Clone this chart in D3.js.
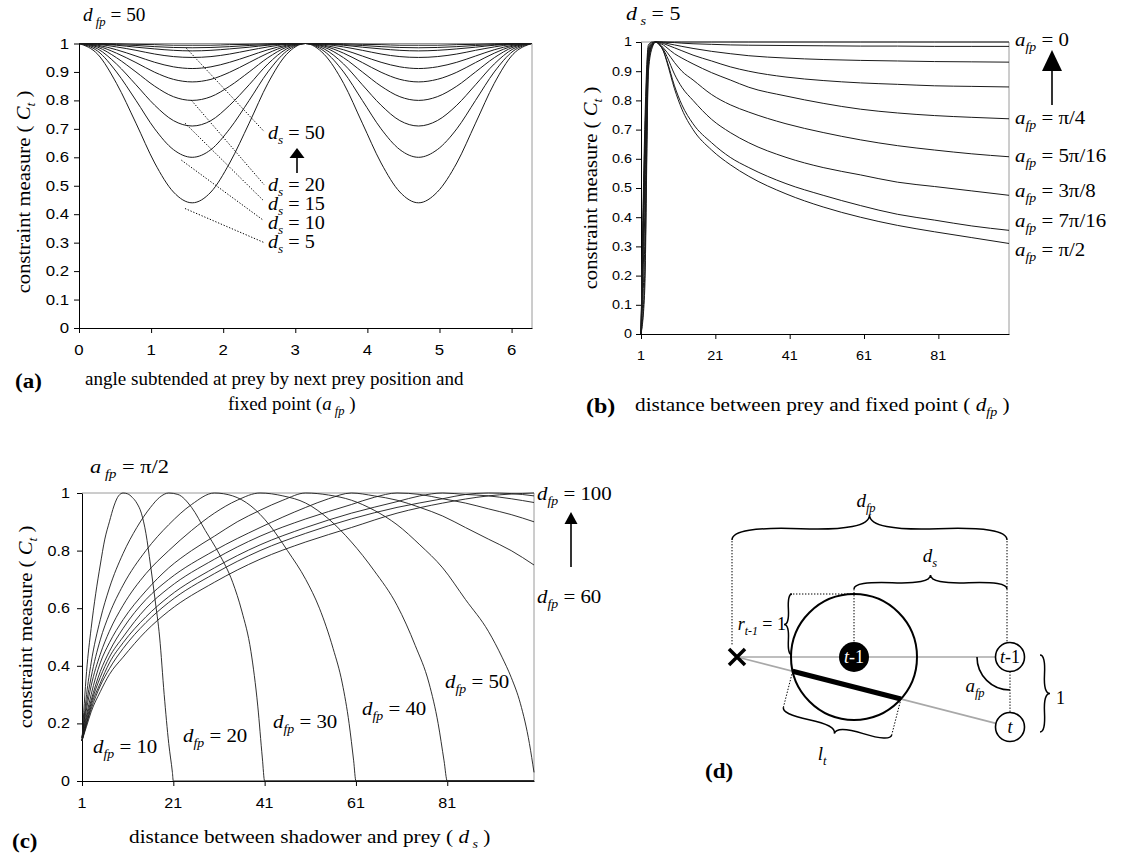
<!DOCTYPE html>
<html><head><meta charset="utf-8">
<script src="https://cdn.jsdelivr.net/npm/d3@7"></script>
<style>body{margin:0;background:#fff}</style>
</head><body><svg id="fig" width="1121" height="854"></svg>
<script>
// ================= DATA =================
// Panel (a): constraint measure vs a_fp (d_fp = 50), one series per d_s
const angleValues = [0,0.26,0.52,0.79,1.05,1.31,1.57,1.83,2.09,2.36,2.62,2.88,3.14,3.40,3.67,3.93,4.19,4.45,4.71,4.97,5.24,5.50,5.76,6.02,6.28];
const aDs5  = [1,.962,.86,.72,.58,.478,.44,.478,.58,.72,.86,.962,1,.962,.86,.72,.58,.478,.44,.478,.58,.72,.86,.962,1];
const aDs10 = [1,.973,.90,.80,.70,.627,.60,.627,.70,.80,.90,.973,1,.973,.90,.80,.70,.627,.60,.627,.70,.80,.90,.973,1];
const aDs15 = [1,.981,.928,.855,.783,.729,.71,.729,.783,.855,.928,.981,1,.981,.928,.855,.783,.729,.71,.729,.783,.855,.928,.981,1];
const aDs20 = [1,.987,.95,.90,.85,.813,.80,.813,.85,.90,.95,.987,1,.987,.95,.90,.85,.813,.80,.813,.85,.90,.95,.987,1];
const aDs25 = [1,.991,.966,.933,.899,.874,.865,.874,.899,.933,.966,.991,1,.991,.966,.933,.899,.874,.865,.874,.899,.933,.966,.991,1];
const aDs30 = [1,.994,.978,.956,.934,.918,.912,.918,.934,.956,.978,.994,1,.994,.978,.956,.934,.918,.912,.918,.934,.956,.978,.994,1];
const aDs35 = [1,.997,.988,.976,.963,.954,.951,.954,.963,.976,.988,.997,1,.997,.988,.976,.963,.954,.951,.954,.963,.976,.988,.997,1];
const aDs40 = [1,.998,.994,.987,.981,.976,.974,.976,.981,.987,.994,.998,1,.998,.994,.987,.981,.976,.974,.976,.981,.987,.994,.998,1];
const aDs45 = [1,.999,.996,.993,.989,.986,.985,.986,.989,.993,.996,.999,1,.999,.996,.993,.989,.986,.985,.986,.989,.993,.996,.999,1];
const aDs50 = [1,1,.999,.997,.996,.994,.994,.994,.996,.997,.999,1,1,1,.999,.997,.996,.994,.994,.994,.996,.997,.999,1,1];
const aXTicks = [0,1,2,3,4,5,6];
const aYTicks = [0,0.1,0.2,0.3,0.4,0.5,0.6,0.7,0.8,0.9,1];
// leader lines: [curve point (a_fp, C), label end (a_fp, C)] and label text
const aLeaderStart = [[1.49,0.983],[1.56,0.80],[1.47,0.72],[1.42,0.59],[1.47,0.42]];
const aLeaderEnd   = [[2.57,0.69],[2.57,0.503],[2.55,0.45],[2.55,0.38],[2.57,0.30]];
const aLeaderLabels = ["50","20","15","10","5"];

// Panel (b): constraint measure vs d_fp (d_s = 5), one series per a_fp
const dfpValues = [1,2,3,4,5,6,7,8,10,12,15,20,25,30,40,50,60,70,80,90,100];
const bAfp0     = [0,.7,.99,1,1,1,1,1,1,1,1,1,1,1,1,1,1,1,1,1,1];
const bAfpPi16  = [0,.65,.98,.998,1,1,1,.999,.998,.996,.994,.992,.99,.989,.988,.987,.986,.986,.985,.985,.985];
const bAfpPi8   = [0,.6,.97,.995,1,1,.998,.995,.99,.985,.978,.968,.96,.953,.945,.94,.937,.935,.933,.932,.931];
const bAfp3Pi16 = [0,.55,.96,.995,1,.998,.995,.99,.98,.97,.955,.935,.915,.9,.88,.868,.86,.855,.85,.848,.846];
const bAfpPi4   = [0,.5,.95,.99,1,.995,.99,.98,.96,.945,.925,.895,.87,.845,.815,.79,.77,.757,.748,.742,.737];
const bAfp5Pi16 = [0,.4,.94,.99,1,.993,.98,.965,.93,.90,.87,.82,.785,.76,.72,.69,.665,.645,.63,.617,.607];
const bAfp3Pi8  = [0,.3,.93,.99,1,.99,.975,.95,.89,.845,.80,.735,.69,.655,.605,.57,.545,.52,.505,.49,.475];
const bAfp7Pi16 = [0,.2,.92,.985,1,.99,.97,.935,.85,.785,.72,.655,.605,.57,.515,.475,.44,.41,.39,.37,.355];
const bAfpPi2   = [0,.15,.9,.98,1,.99,.97,.93,.84,.77,.70,.63,.58,.54,.48,.435,.40,.372,.35,.33,.31];
const bXTicks = [1,21,41,61,81];
const bYTicks = [0,0.1,0.2,0.3,0.4,0.5,0.6,0.7,0.8,0.9,1];
const bLabels = ["0","π/4","5π/16","3π/8","7π/16","π/2"];

// Panel (c): constraint measure vs d_s (a_fp = π/2), one series per d_fp, [d_s, C]
const cDfp10  = [[1,.14],[2,.38],[3,.53],[4,.65],[5,.75],[6,.84],[7,.9],[8,.955],[9,.99],[10,1],[11,.997],[12,.985],[13,.965],[14,.93],[15,.86],[16,.75],[17,.63],[18,.5],[19,.3],[20,.13],[20.8,.03],[21,0],[100,0]];
const cDfp20  = [[1,.14],[2,.3],[3,.41],[5,.56],[7,.67],[10,.79],[13,.88],[16,.95],[18,.985],[20,1],[22,.995],[25,.95],[28,.87],[31,.79],[34,.69],[36,.59],[38,.45],[39.5,.26],[40.5,.08],[41,0],[100,0]];
const cDfp30  = [[1,.15],[2,.27],[3,.36],[5,.49],[7,.58],[10,.68],[15,.8],[20,.89],[25,.96],[30,1],[34,.99],[38,.955],[42,.89],[46,.8],[50,.7],[53,.6],[56,.46],[58,.34],[59.5,.2],[60.5,.07],[61,0],[100,0]];
const cDfp40  = [[1,.15],[2,.25],[3,.33],[5,.44],[7,.52],[10,.61],[15,.72],[20,.8],[25,.87],[30,.93],[35,.975],[40,1],[45,.99],[50,.965],[55,.91],[60,.83],[65,.73],[70,.61],[74,.47],[77,.34],[79,.2],[80.3,.07],[81,0],[100,0]];
const cDfp50  = [[1,.15],[2,.23],[3,.3],[5,.41],[7,.48],[10,.56],[15,.66],[20,.74],[25,.8],[30,.85],[35,.9],[40,.94],[45,.975],[50,1],[55,.993],[60,.975],[65,.94],[70,.89],[75,.82],[80,.74],[85,.63],[90,.52],[93,.43],[95,.36],[97,.27],[99,.13],[100,.03]];
const cDfp60  = [[1,.14],[2,.22],[3,.28],[5,.38],[7,.45],[10,.53],[15,.63],[20,.7],[30,.8],[40,.88],[50,.95],[55,.98],[60,1],[65,.99],[70,.975],[75,.95],[80,.92],[85,.88],[90,.84],[95,.8],[100,.75]];
const cDfp70  = [[1,.14],[2,.21],[3,.27],[5,.36],[7,.43],[10,.5],[15,.6],[20,.67],[30,.77],[40,.85],[50,.91],[60,.96],[65,.985],[70,1],[75,.995],[80,.98],[85,.965],[90,.945],[95,.925],[100,.9]];
const cDfp80  = [[1,.14],[2,.2],[3,.26],[5,.34],[7,.41],[10,.48],[15,.57],[20,.64],[30,.74],[40,.82],[50,.88],[60,.93],[70,.97],[75,.99],[80,1],[85,.995],[90,.99],[95,.98],[100,.967]];
const cDfp90  = [[1,.14],[2,.2],[3,.25],[5,.33],[7,.39],[10,.46],[15,.55],[20,.62],[30,.72],[40,.8],[50,.86],[60,.91],[70,.95],[80,.98],[85,.995],[90,1],[95,.998],[100,.99]];
const cDfp100 = [[1,.14],[2,.19],[3,.24],[5,.31],[7,.37],[10,.43],[15,.52],[20,.59],[30,.69],[40,.77],[50,.83],[60,.88],[70,.93],[80,.965],[90,.99],[100,1]];
const cXTicks = [1,21,41,61,81];
const cYTicks = [0,0.2,0.4,0.6,0.8,1];
const cBottomLabels = ["10","20","30","40","50"];

// ================= DRAWING =================
const SERIF = "'Liberation Serif','Times New Roman',serif";
const SANS = "'Liberation Sans',Arial,sans-serif";
const svg = d3.select('#fig');
svg.append('rect').attr('width',1121).attr('height',854).attr('fill','#fff');

function rich(g, x, y, parts, o = {}) {
  const size = o.size || 18;
  const sx = o.sx || 1;
  const t = g.append('text').attr('x', 0).attr('y', 0)
    .attr('font-family', SERIF).attr('font-size', size)
    .attr('text-anchor', o.anchor || 'start').attr('fill', o.fill || '#000')
    .attr('transform', `translate(${x},${y})${o.rot ? ` rotate(${o.rot})` : ''} scale(${sx},1)`);
  if (o.weight) t.attr('font-weight', o.weight);
  let shift = 0;
  parts.forEach(p => {
    const s = t.append('tspan').text(p.t);
    if (p.i) s.attr('font-style', 'italic');
    const target = p.sub ? size * 0.28 : 0;
    if (target !== shift) { s.attr('dy', target - shift); shift = target; }
    if (p.sub) s.attr('font-size', size * 0.66);
    if (p.dx) s.attr('dx', p.dx);
  });
  return t;
}

function axesFrame(g, x, y, xTicks, yTicks, fs, sx, xLabOff, yLabOff) {
  const [x0, x1] = x.range(); const [yb, yt] = y.range();
  g.append('line').attr('x1', x0).attr('x2', x1).attr('y1', yt).attr('y2', yt).attr('stroke', '#9a9a9a');
  g.append('line').attr('x1', x1).attr('x2', x1).attr('y1', yt).attr('y2', yb).attr('stroke', '#9a9a9a');
  const ax = g.append('g').attr('transform', `translate(0,${yb})`)
    .call(d3.axisBottom(x).tickValues(xTicks).tickSize(5).tickSizeOuter(0).tickFormat(''));
  const ay = g.append('g').attr('transform', `translate(${x0},0)`)
    .call(d3.axisLeft(y).tickValues(yTicks).tickSize(5).tickSizeOuter(0).tickFormat(''));
  [ax, ay].forEach(a => a.selectAll('line,path').attr('stroke', '#000'));
  xTicks.forEach(v => g.append('text').text(v)
    .attr('transform', `translate(${x(v)},${yb + xLabOff}) scale(${sx},1)`)
    .attr('text-anchor', 'middle').attr('font-family', SANS).attr('font-size', fs));
  yTicks.forEach(v => g.append('text').text(String(+v.toFixed(1)))
    .attr('transform', `translate(${x0 - yLabOff},${y(v)}) scale(${sx},1)`).attr('dy', '0.36em')
    .attr('text-anchor', 'end').attr('font-family', SANS).attr('font-size', fs));
}

function arrow(g, x, yTip, yBase, yBottom, hw) {
  g.append('line').attr('x1', x).attr('x2', x).attr('y1', yBase).attr('y2', yBottom).attr('stroke', '#000').attr('stroke-width', 1.6);
  g.append('path').attr('d', `M${x},${yTip}L${x - hw},${yBase}L${x + hw},${yBase}Z`).attr('fill', '#000');
}

function yLabel(g, cx, cy) {
  rich(g, cx, cy, [{t:'constraint measure ( '},{t:'C', i:true},{t:'t', i:true, sub:true},{t:' )'}],
    {anchor:'middle', rot:-90, size:19, sx:1.09});
}

// ---------- Panel (a) ----------
{
  const g = svg.append('g');
  const x = d3.scaleLinear().domain([0, 2 * Math.PI]).range([79, 532]);
  const y = d3.scaleLinear().domain([0, 1]).range([328, 43.5]);
  axesFrame(g, x, y, aXTicks, aYTicks, 14, 1.2, 27, 10);
  const line = d3.line().x((d, i) => x(angleValues[i])).y(d => y(d)).curve(d3.curveMonotoneX);
  [aDs5, aDs10, aDs15, aDs20, aDs25, aDs30, aDs35, aDs40, aDs45, aDs50].forEach(s =>
    g.append('path').attr('d', line(s)).attr('fill', 'none').attr('stroke', '#1a1a1a').attr('stroke-width', 1));
  aLeaderStart.forEach((p, i) => {
    const e = aLeaderEnd[i];
    g.append('line').attr('x1', x(p[0])).attr('y1', y(p[1])).attr('x2', x(e[0])).attr('y2', y(e[1]))
      .attr('stroke', '#000').attr('stroke-dasharray', '1.3,1.7');
  });
  const labY = [139, 191, 210, 229, 248];
  aLeaderLabels.forEach((l, i) =>
    rich(g, 268, labY[i], [{t:'d', i:true},{t:'s', i:true, sub:true},{t:' = ' + l}], {size:18, sx:1.12}));
  arrow(g, 297, 148, 158, 173, 7.5);
  rich(g, 83, 21, [{t:'d', i:true},{t:' fp', i:true, sub:true},{t:'  = 50'}], {size:18, sx:1.07});
  yLabel(g, 30, 192);
  rich(g, 85, 385, [{t:'angle subtended at prey by next prey position and'}], {size:18.5, sx:1.03});
  rich(g, 228, 410, [{t:'fixed point ('},{t:'a', i:true},{t:' fp', i:true, sub:true},{t:' )'}], {size:18.5, sx:1.03});
  rich(g, 15, 388, [{t:'(a)'}], {size:20, weight:'bold', sx:1.15});
}

// ---------- Panel (b) ----------
{
  const g = svg.append('g');
  const x = d3.scaleLinear().domain([1, 100]).range([641, 1009]);
  const y = d3.scaleLinear().domain([0, 1]).range([334, 42]);
  axesFrame(g, x, y, bXTicks, bYTicks, 12, 1.2, 26, 9);
  const line = d3.line().x((d, i) => x(dfpValues[i])).y(d => y(d)).curve(d3.curveMonotoneX);
  [bAfp0, bAfpPi16, bAfpPi8, bAfp3Pi16, bAfpPi4, bAfp5Pi16, bAfp3Pi8, bAfp7Pi16, bAfpPi2].forEach(s =>
    g.append('path').attr('d', line(s)).attr('fill', 'none').attr('stroke', '#1a1a1a').attr('stroke-width', 1));
  const labY = [46, 124, 162, 197, 227, 256];
  bLabels.forEach((l, i) =>
    rich(g, 1015, labY[i], [{t:'a', i:true},{t:'fp', i:true, sub:true},{t:' = ' + l}], {size:19, sx:1.1}));
  arrow(g, 1052, 50, 71, 105, 10);
  rich(g, 626, 20, [{t:'d', i:true},{t:' s', i:true, sub:true},{t:'  = 5'}], {size:19, sx:1.15});
  yLabel(g, 597, 188);
  rich(g, 635, 411, [{t:'distance between prey and fixed point ( '},{t:'d', i:true},{t:'fp', i:true, sub:true},{t:' )'}], {size:19, sx:1.12});
  rich(g, 586, 413, [{t:'(b)'}], {size:20, weight:'bold', sx:1.2});
}

// ---------- Panel (c) ----------
{
  const g = svg.append('g');
  const x = d3.scaleLinear().domain([1, 100]).range([82, 534]);
  const y = d3.scaleLinear().domain([0, 1]).range([781, 493]);
  axesFrame(g, x, y, cXTicks, cYTicks, 14, 1.15, 27, 12);
  const line = d3.line().x(d => x(d[0])).y(d => y(d[1])).curve(d3.curveMonotoneX);
  [cDfp10, cDfp20, cDfp30, cDfp40, cDfp50, cDfp60, cDfp70, cDfp80, cDfp90, cDfp100].forEach(s =>
    g.append('path').attr('d', line(s)).attr('fill', 'none').attr('stroke', '#1a1a1a').attr('stroke-width', 0.9));
  const labPos = [[93, 753], [183, 742], [273, 728], [362, 715], [445, 688]];
  cBottomLabels.forEach((l, i) =>
    rich(g, labPos[i][0], labPos[i][1], [{t:'d', i:true},{t:'fp', i:true, sub:true},{t:' = ' + l}], {size:19, sx:1.1}));
  rich(g, 537, 500, [{t:'d', i:true},{t:'fp', i:true, sub:true},{t:' = 100'}], {size:19, sx:1.1});
  rich(g, 537, 603, [{t:'d', i:true},{t:'fp', i:true, sub:true},{t:' = 60'}], {size:19, sx:1.1});
  arrow(g, 571, 512, 524, 567, 6.5);
  rich(g, 90, 473, [{t:'a', i:true},{t:' fp', i:true, sub:true},{t:'  = π/2'}], {size:19, sx:1.18});
  yLabel(g, 32, 627);
  rich(g, 129, 843, [{t:'distance between shadower and prey ( '},{t:'d', i:true},{t:' s', i:true, sub:true},{t:' )'}], {size:19, sx:1.12});
  rich(g, 12, 848, [{t:'(c)'}], {size:20, weight:'bold', sx:1.15});
}

// ---------- Panel (d): schematic ----------
{
  const g = svg.append('g');
  const X = [737, 657], C = [854, 657], R = 63, P = [1010, 657], T = [1010, 727], rs = 14.5;
  const grey = '#a8a8a8';
  const dot = s => s.attr('stroke', '#000').attr('stroke-width', 1).attr('stroke-dasharray', '1.4,1.6').attr('fill', 'none');
  const brace = (p1, p2, n, w, q = 0.55) => {
    const len = Math.hypot(p2[0] - p1[0], p2[1] - p1[1]);
    const d = [(p2[0] - p1[0]) / len, (p2[1] - p1[1]) / len];
    const m = [(p1[0] + p2[0]) / 2 + n[0] * w, (p1[1] + p2[1]) / 2 + n[1] * w];
    const a1 = [p1[0] + n[0] * q * w, p1[1] + n[1] * q * w];
    const b1 = [p1[0] + d[0] * len * .25 + n[0] * (1 - q) * w, p1[1] + d[1] * len * .25 + n[1] * (1 - q) * w];
    const a2 = [p2[0] + n[0] * q * w, p2[1] + n[1] * q * w];
    const b2 = [p2[0] - d[0] * len * .25 + n[0] * (1 - q) * w, p2[1] - d[1] * len * .25 + n[1] * (1 - q) * w];
    g.append('path').attr('d', `M${p1}Q${a1} ${b1}T${m}M${p2}Q${a2} ${b2}T${m}`)
      .attr('fill', 'none').attr('stroke', '#000').attr('stroke-width', 1.5);
  };
  g.append('line').attr('x1', X[0]).attr('y1', X[1]).attr('x2', P[0] - rs).attr('y2', P[1]).attr('stroke', grey).attr('stroke-width', 1.6);
  const L = Math.hypot(T[0] - X[0], T[1] - X[1]); const u = [(T[0] - X[0]) / L, (T[1] - X[1]) / L];
  g.append('line').attr('x1', X[0]).attr('y1', X[1]).attr('x2', T[0] - u[0] * rs).attr('y2', T[1] - u[1] * rs).attr('stroke', grey).attr('stroke-width', 1.6);
  g.append('circle').attr('cx', C[0]).attr('cy', C[1]).attr('r', R).attr('fill', 'none').attr('stroke', '#000').attr('stroke-width', 2);
  const proj = (C[0] - X[0]) * u[0] + (C[1] - X[1]) * u[1];
  const perp = Math.abs((C[0] - X[0]) * u[1] - (C[1] - X[1]) * u[0]);
  const half = Math.sqrt(R * R - perp * perp);
  const c1 = [X[0] + u[0] * (proj - half), X[1] + u[1] * (proj - half)];
  const c2 = [X[0] + u[0] * (proj + half), X[1] + u[1] * (proj + half)];
  g.append('line').attr('x1', c1[0]).attr('y1', c1[1]).attr('x2', c2[0]).attr('y2', c2[1]).attr('stroke', '#000').attr('stroke-width', 5);
  const nrm = [-u[1], u[0]];
  const off = 37;
  const e1 = [c1[0] + nrm[0] * off, c1[1] + nrm[1] * off];
  const e2 = [c2[0] + nrm[0] * off, c2[1] + nrm[1] * off];
  dot(g.append('line').attr('x1', c1[0]).attr('y1', c1[1]).attr('x2', e1[0]).attr('y2', e1[1]));
  dot(g.append('line').attr('x1', c2[0]).attr('y1', c2[1]).attr('x2', e2[0]).attr('y2', e2[1]));
  brace(e1, e2, nrm, 13);
  g.append('circle').attr('cx', C[0]).attr('cy', C[1]).attr('r', 15).attr('fill', '#000');
  rich(g, C[0], C[1] + 6, [{t:'t', i:true},{t:'-1'}], {anchor:'middle', fill:'#fff', size:18});
  g.append('circle').attr('cx', P[0]).attr('cy', P[1]).attr('r', rs).attr('fill', '#fff').attr('stroke', '#000').attr('stroke-width', 1.6);
  rich(g, P[0], P[1] + 6, [{t:'t', i:true},{t:'-1'}], {anchor:'middle', size:18});
  g.append('circle').attr('cx', T[0]).attr('cy', T[1]).attr('r', rs).attr('fill', '#fff').attr('stroke', '#000').attr('stroke-width', 1.6);
  rich(g, T[0], T[1] + 6, [{t:'t', i:true}], {anchor:'middle', size:18});
  dot(g.append('line').attr('x1', P[0]).attr('y1', P[1] + rs).attr('x2', T[0]).attr('y2', T[1] - rs));
  g.append('path').attr('d', `M${X[0] - 8},${X[1] - 8}L${X[0] + 8},${X[1] + 8}M${X[0] - 8},${X[1] + 8}L${X[0] + 8},${X[1] - 8}`)
    .attr('stroke', '#000').attr('stroke-width', 3.5);
  const ar = 33;
  g.append('path').attr('d', `M${P[0] - ar},${P[1]}A${ar},${ar} 0 0 0 ${P[0]},${P[1] + ar}`).attr('fill', 'none').attr('stroke', '#000').attr('stroke-width', 1.6);
  rich(g, 975, 692, [{t:'a', i:true},{t:'fp', i:true, sub:true}], {anchor:'middle', size:19});
  dot(g.append('line').attr('x1', 732).attr('y1', 541).attr('x2', 732).attr('y2', 646));
  dot(g.append('line').attr('x1', 1007).attr('y1', 541).attr('x2', 1007).attr('y2', P[1] - rs));
  dot(g.append('line').attr('x1', C[0]).attr('y1', 589).attr('x2', C[0]).attr('y2', C[1] - 15));
  dot(g.append('line').attr('x1', 790).attr('y1', C[1] - R).attr('x2', C[0]).attr('y2', C[1] - R));
  brace([732, 540], [1007, 540], [0, -1], 25);
  brace([C[0], 589], [1007, 589], [0, -1], 14);
  brace([792, C[1] - R], [792, C[1] - 2], [-1, 0], 8);
  brace([1040, P[1] - 2], [1040, T[1] + 5], [1, 0], 10);
  rich(g, 866, 507, [{t:'d', i:true},{t:'fp', i:true, sub:true}], {anchor:'middle', size:19});
  rich(g, 930, 562, [{t:'d', i:true},{t:'s', i:true, sub:true}], {anchor:'middle', size:19});
  rich(g, 786, 630, [{t:'r', i:true},{t:'t-1', i:true, sub:true},{t:' = 1'}], {anchor:'end', size:18});
  rich(g, 1056, 704, [{t:'1'}], {size:18});
  rich(g, 822, 760, [{t:'l', i:true},{t:'t', i:true, sub:true}], {anchor:'middle', size:19});
  rich(g, 705, 778, [{t:'(d)'}], {size:20, weight:'bold', sx:1.15});
}
</script></body></html>
